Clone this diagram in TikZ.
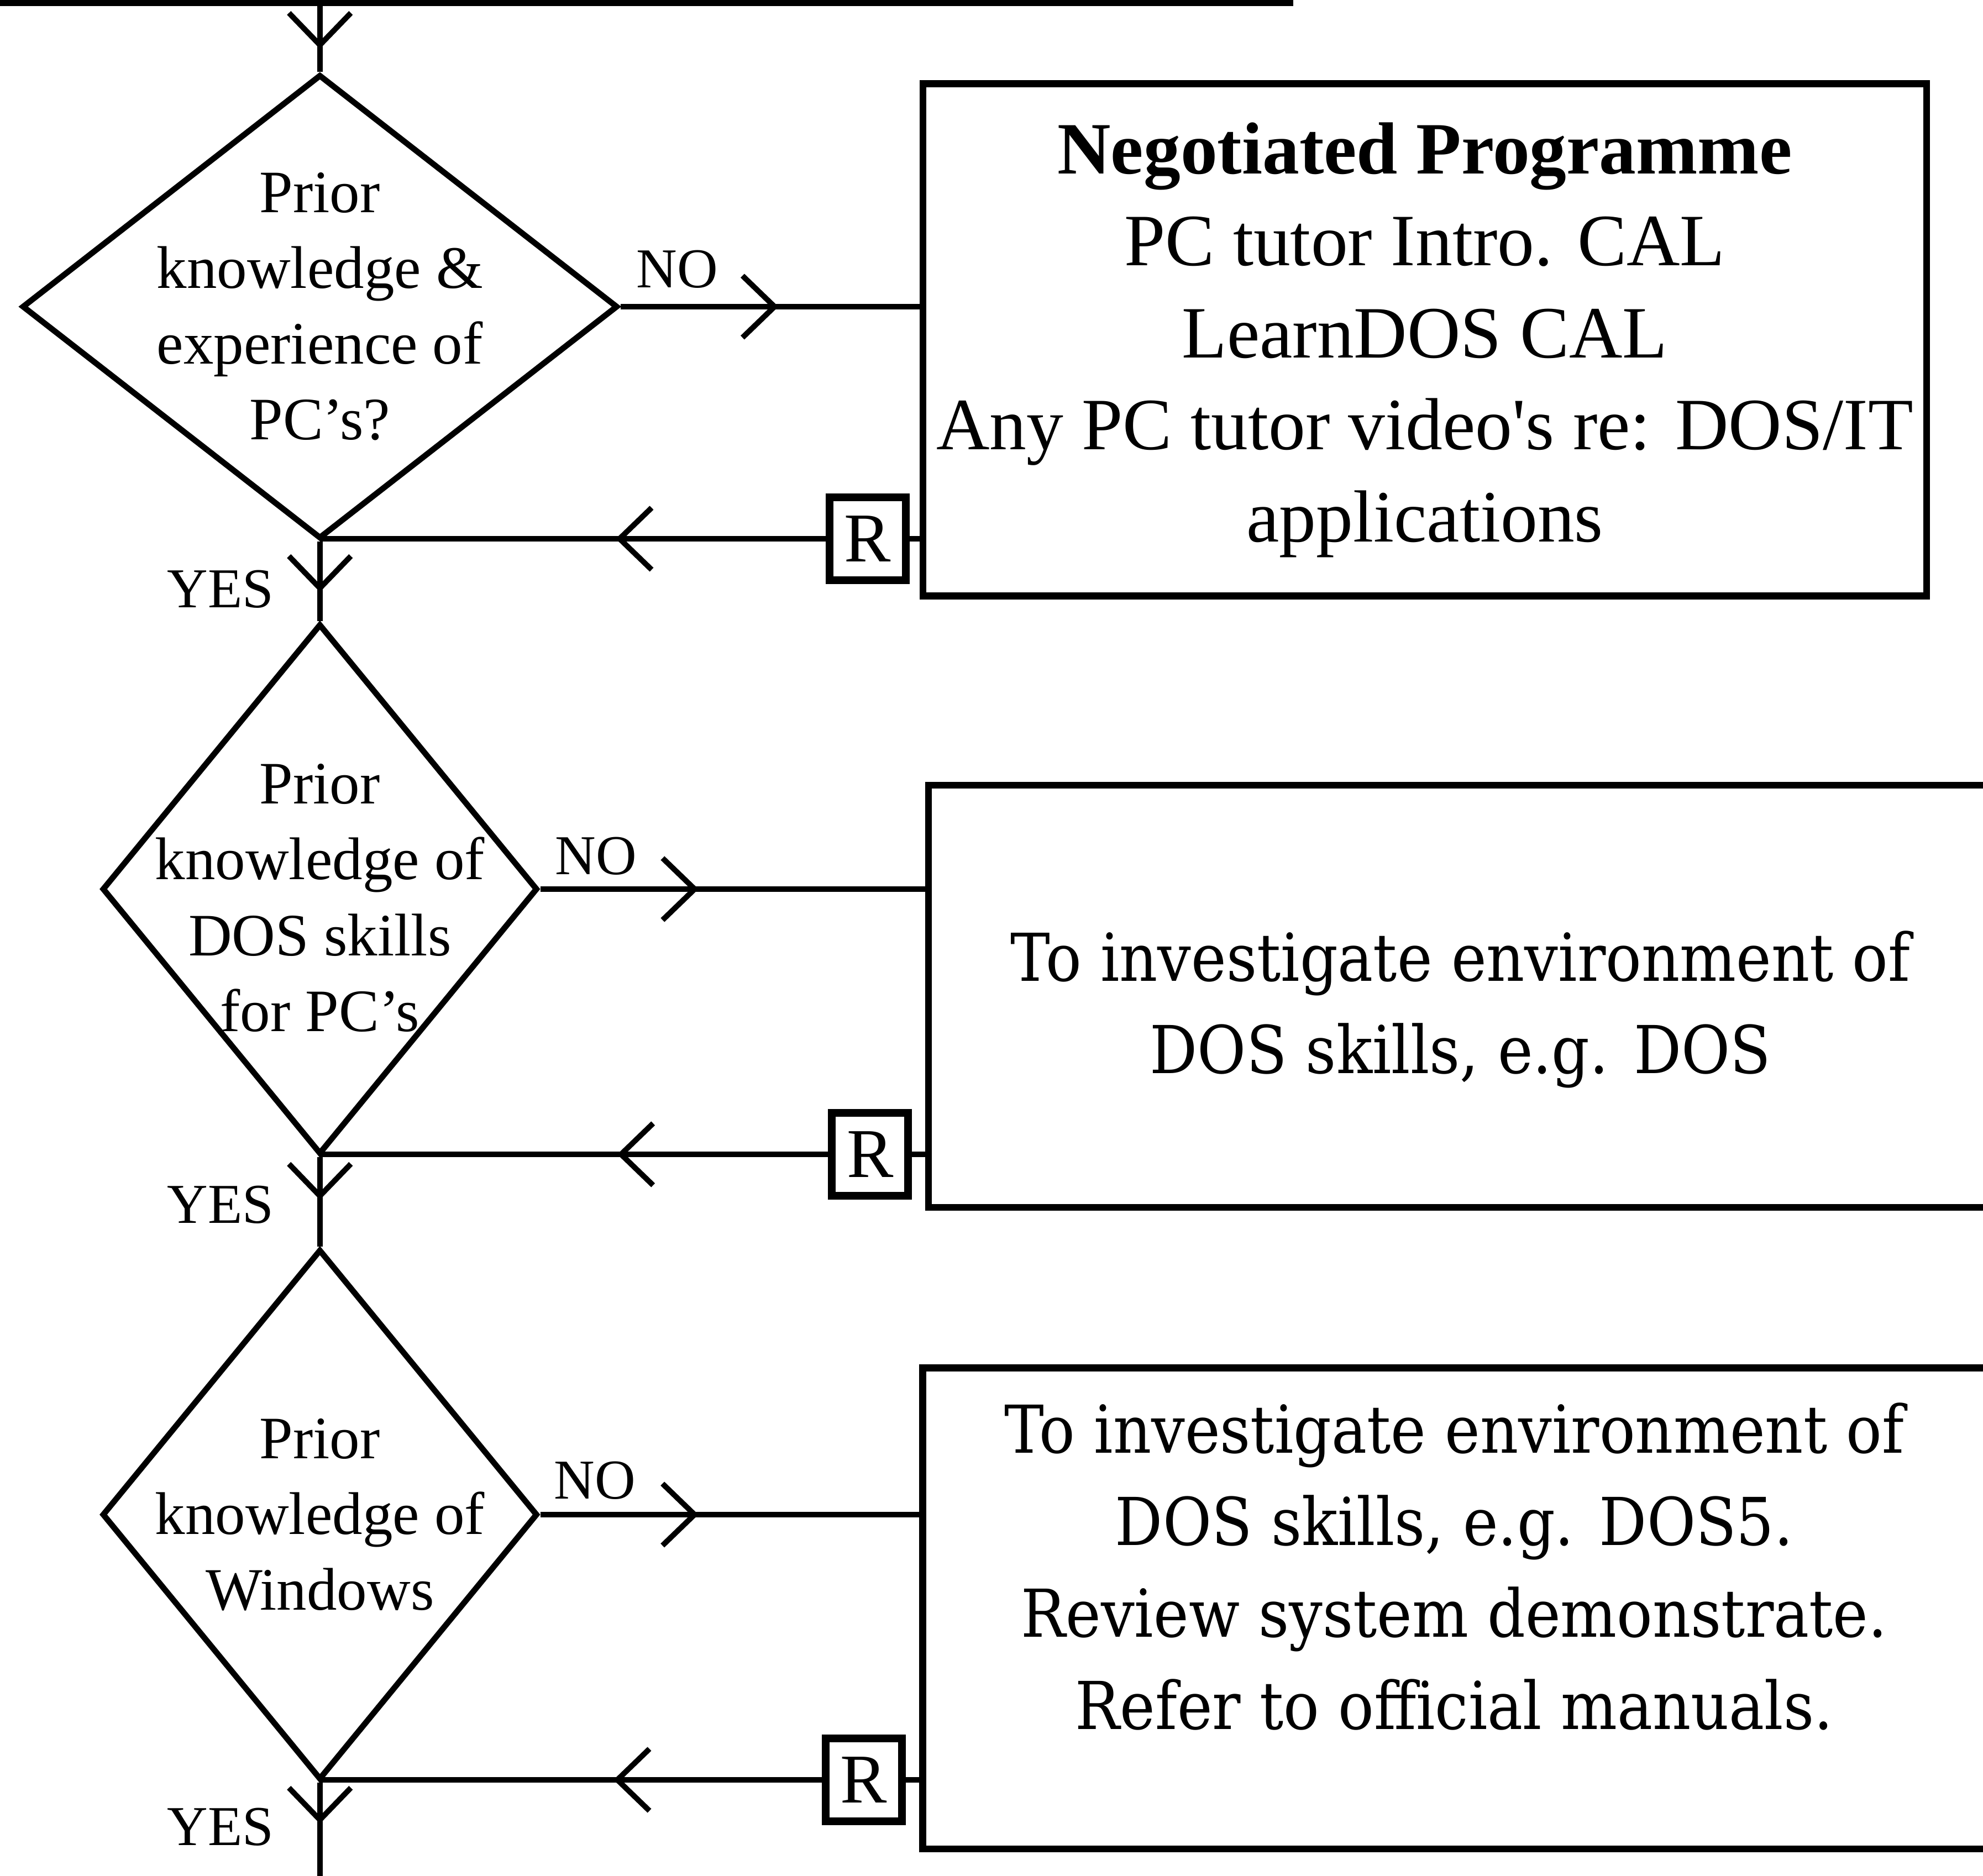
\documentclass[tikz,border=0pt]{standalone}
\usepackage{fontspec}
\setmainfont{Liberation Serif}
\newfontfamily\schoolfont[FakeStretch=0.9]{DejaVu Serif}
\usetikzlibrary{arrows.meta, positioning, calc, shapes.geometric, decorations.markings}
\colorlet{ink}{black}

\begin{document}
\begin{tikzpicture}[
  line width=1.5pt,
  decision/.style={draw=ink, diamond, inner sep=0pt, line width=1.5pt},
  qtext/.style={align=center, inner sep=0pt, font=\fontsize{15.5}{19.5}\selectfont},
  progbox/.style={draw=ink, rectangle, inner sep=0pt, line width=1.8pt, align=center},
  boxtext/.style={align=center, inner sep=0pt, font=\schoolfont\fontsize{17}{23.7}\selectfont},
  rbox/.style={draw=ink, rectangle, inner sep=0pt, line width=2pt, minimum width=0.69cm, minimum height=0.75cm, font=\fontsize{18}{18}\selectfont},
  lbl/.style={inner sep=0pt, font=\fontsize{14.5}{14.5}\selectfont},
  flow/.style={draw=ink, decoration={markings, mark=at position #1 with {\arrow{Straight Barb[length=2.9mm, width=5.6mm, line width=1.4pt]}}}, postaction={decorate}},
]

% Page
\useasboundingbox (0,0) rectangle (17.94,16.975);
\clip (0,0) rectangle (17.94,16.975);

\def\mainx{2.894}

% ============================================================
% Decisions
% ============================================================
\node[decision, minimum width=5.39cm, minimum height=4.2cm] (d1) at (\mainx,14.20) {};
\node[qtext] (q1) at (d1.center) {Prior\\knowledge \&\\experience of\\PC's?};

\node[decision, minimum width=3.94cm, minimum height=4.8cm] (d2) at (\mainx,8.93) {};
\node[qtext] (q2) at ($(d2.center)+(0,-0.08)$) {Prior\\knowledge of\\DOS skills\\for PC's};

\node[decision, minimum width=3.94cm, minimum height=4.8cm] (d3) at (\mainx,3.27) {};
\node[qtext] (q3) at (d3.center) {Prior\\knowledge of\\Windows};

% ============================================================
% Programme boxes
% ============================================================
\node[progbox, minimum width=9.08cm, minimum height=4.636cm, font=\fontsize{19}{23.7}\selectfont] (b1) at (12.89,13.899)
  {{\bfseries Negotiated Programme}\\PC tutor Intro. CAL\\LearnDOS CAL\\Any PC tutor video\textquotesingle s re: DOS/IT\\applications};

\node[progbox, minimum width=9.68cm, minimum height=3.82cm] (b2) at (13.24,7.96) {};
\node[boxtext] (b2t) at (13.213,7.84) {To investigate environment of\\DOS skills, e.g. DOS};

\node[progbox, minimum width=9.705cm, minimum height=4.354cm] (b3) at (13.20,2.421) {};
\node[boxtext] (b3t) at (13.156,2.80)
  {To investigate environment of\\DOS skills, e.g. DOS5.\\Review system demonstrate.\\Refer to official manuals.};

% Return markers
\node[rbox] (rb1) at (7.848,12.10) {R};
\node[rbox] (rb2) at (7.871,6.53) {R};
\node[rbox] (rb3) at (7.814,0.87) {R};

% ============================================================
% Main line
% ============================================================
\coordinate (topleft) at (0,16.95);
\coordinate (topright) at (11.70,16.95);
\coordinate (top) at (\mainx,16.95);
\coordinate (bot) at (\mainx,0);

\draw[line width=1.6pt] (topleft) -- (topright);
\draw[flow=0.67] (top) -- (d1.north);
\draw[flow=0.636] (d1.south) -- (d2.north);
\draw[flow=0.478] (d2.south) -- (d3.north);
\draw[flow=0.44] (d3.south) -- (bot);

% NO branches
\draw[flow=0.528] (d1.east) -- (d1.east -| b1.west);
\draw[flow=0.411] (d2.east) -- (d2.east -| b2.west);
\draw[flow=0.417] (d3.east) -- (d3.east -| b3.west);

% Returns
\draw[flow=0.415] (rb1.west) -- (rb1.west -| d1.south);
\draw[flow=0.415] (rb2.west) -- (rb2.west -| d2.south);
\draw[flow=0.415] (rb3.west) -- (rb3.west -| d3.south);
\draw (rb1.east) -- (rb1.east -| b1.west);
\draw (rb2.east) -- (rb2.east -| b2.west);
\draw (rb3.east) -- (rb3.east -| b3.west);

% Labels
\node[lbl] (no1) at ($(d1.east)+(0.51,0.34)$) {NO};
\node[lbl] (no2) at ($(d2.east)+(0.50,0.30)$) {NO};
\node[lbl] (no3) at ($(d3.east)+(0.49,0.31)$) {NO};
\node[lbl, anchor=east] (yes1) at ($(d1.south)+(-0.39,-0.43)$) {YES};
\node[lbl, anchor=east] (yes2) at ($(d2.south)+(-0.39,-0.43)$) {YES};
\node[lbl, anchor=east] (yes3) at ($(d3.south)+(-0.39,-0.40)$) {YES};

\end{tikzpicture}
\end{document}
